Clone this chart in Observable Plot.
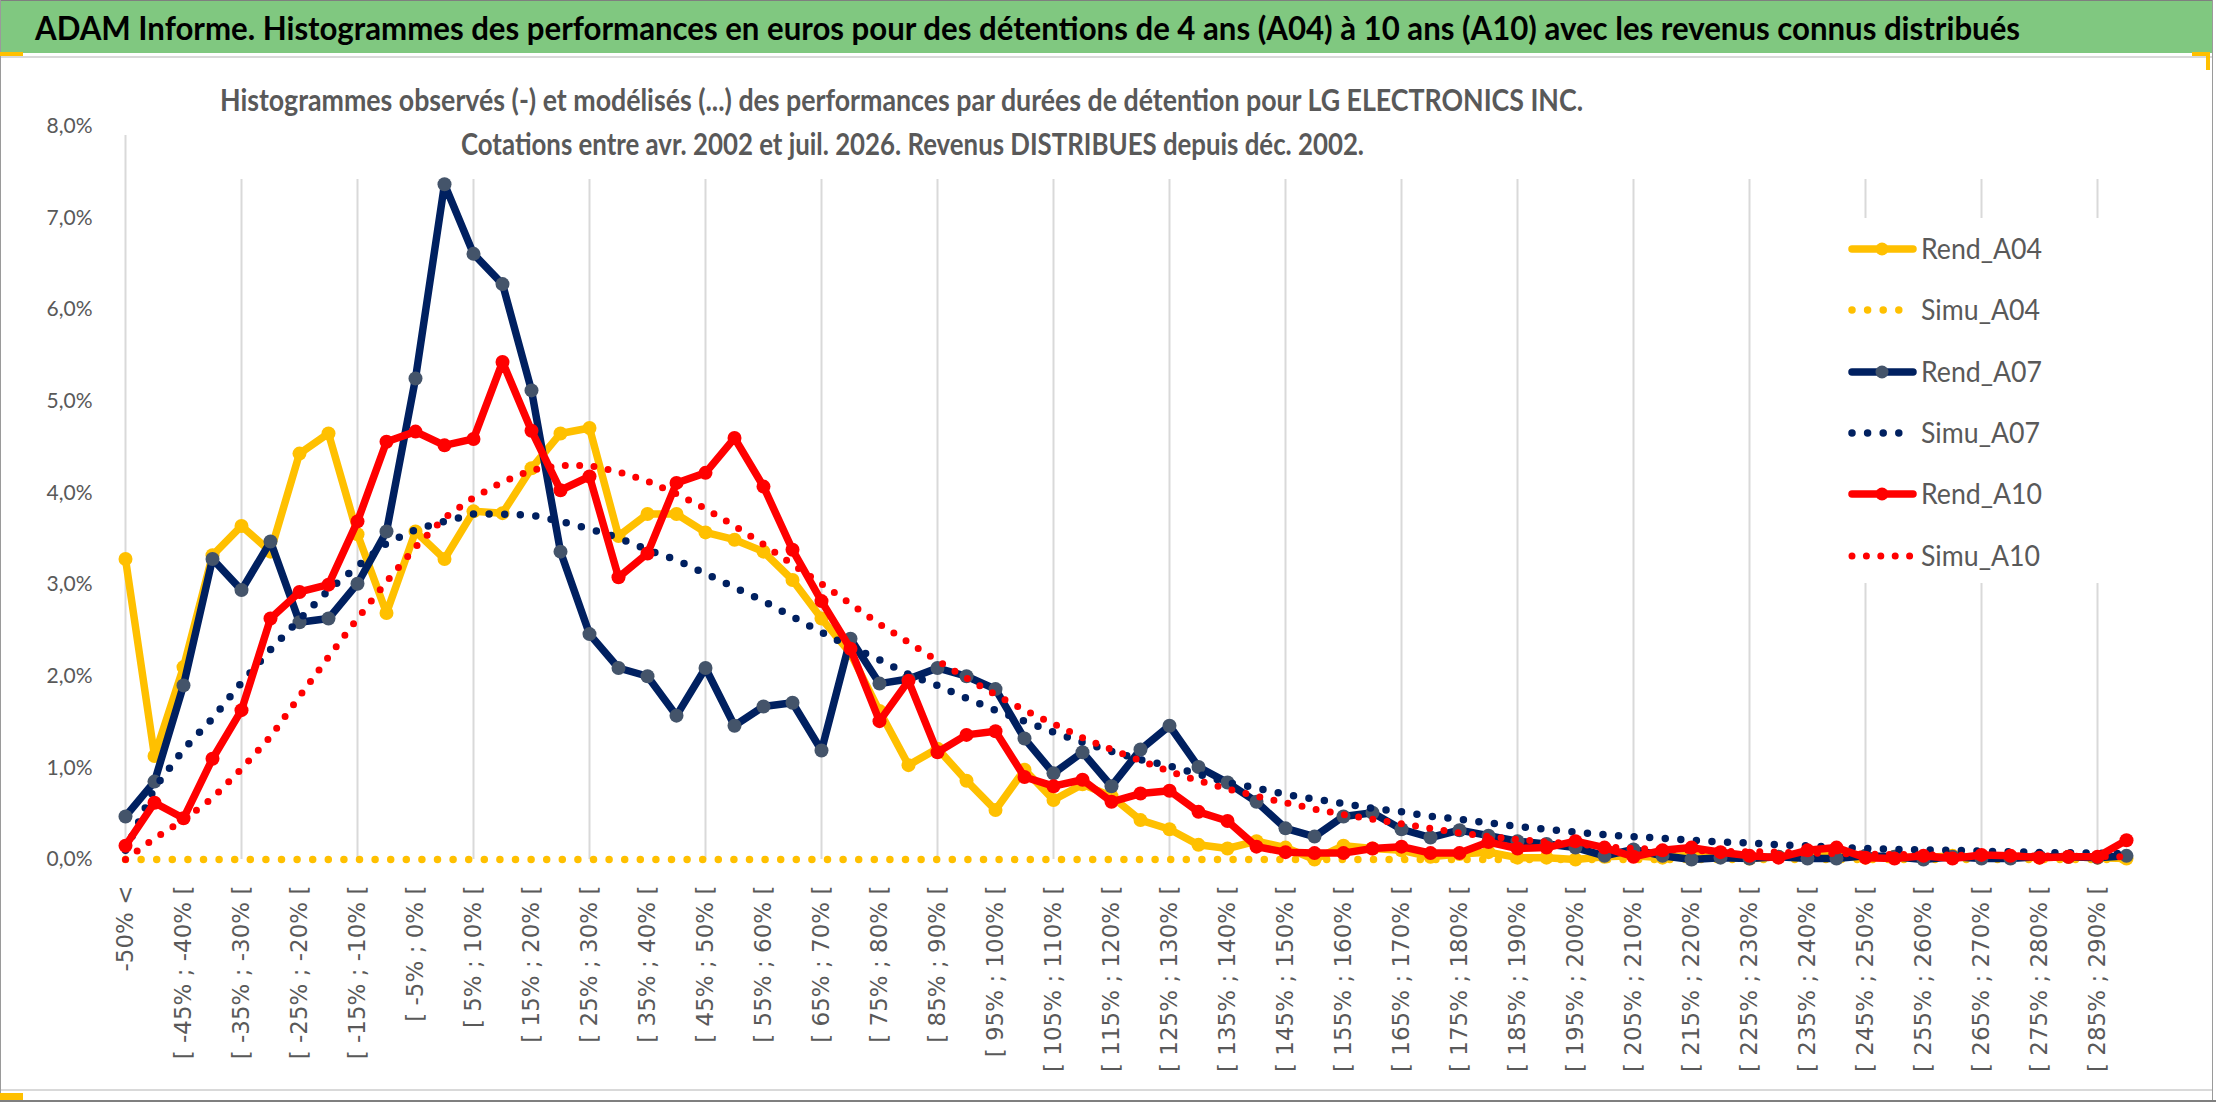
<!DOCTYPE html>
<html>
<head>
<meta charset="utf-8">
<script src="https://cdn.jsdelivr.net/npm/d3@7"></script>
<script src="https://cdn.jsdelivr.net/npm/@observablehq/plot@0.6"></script>
<style>
html,body{margin:0;padding:0;background:#fff;}
#wrap{position:relative;width:2216px;height:1102px;overflow:hidden;background:#fff;}
#header{position:absolute;left:0;top:0;width:2213px;height:53px;background:#80c880;border-top:1px solid #7f7f7f;box-sizing:border-box;}
#header svg{display:block;overflow:visible;}
#chart{position:absolute;left:0;top:57px;}
.deco{position:absolute;}
</style>
</head>
<body>
<div id="wrap">
  <div id="chart"></div>
  <div id="header">
    <svg width="2213" height="52">
      <text id="title" x="35" y="39" text-anchor="start" font-family="Lato, 'Open Sans', sans-serif" font-weight="bold" font-size="32" fill="#000" textLength="1985" lengthAdjust="spacingAndGlyphs">ADAM Informe. Histogrammes des performances en euros pour des détentions de 4 ans (A04) à 10 ans (A10) avec les revenus connus distribués</text>
    </svg>
  </div>
  <div class="deco" style="left:0;top:56px;width:2213px;height:2px;background:#d9d9d9;"></div>
  <div class="deco" style="left:0;top:1089px;width:2213px;height:2px;background:#d9d9d9;"></div>
  <div class="deco" style="left:0;top:0;width:1px;height:1102px;background:#9a9a9a;"></div>
  <div class="deco" style="left:2212px;top:0;width:1px;height:1102px;background:#9a9a9a;"></div>
  <div class="deco" style="left:0;top:1100px;width:2216px;height:2px;background:#7f7f7f;"></div>
  <div class="deco" style="left:0;top:52px;width:23px;height:4px;background:#ffc000;"></div>
  <div class="deco" style="left:2192px;top:52px;width:18px;height:4px;background:#ffc000;"></div>
  <div class="deco" style="left:2206px;top:52px;width:4px;height:18px;background:#ffc000;"></div>
  <div class="deco" style="left:0;top:1093px;width:23px;height:7px;background:#ffc000;"></div>
</div>
<script>
// ---- categories (classes de performance) ----
const cats = [
  "-50% <",
  "[ -50% ; -45% [", "[ -45% ; -40% [", "[ -40% ; -35% [", "[ -35% ; -30% [", "[ -30% ; -25% [",
  "[ -25% ; -20% [", "[ -20% ; -15% [", "[ -15% ; -10% [", "[ -10% ; -5% [", "[ -5% ; 0% [",
  "[ 0% ; 5% [", "[ 5% ; 10% [", "[ 10% ; 15% [", "[ 15% ; 20% [", "[ 20% ; 25% [",
  "[ 25% ; 30% [", "[ 30% ; 35% [", "[ 35% ; 40% [", "[ 40% ; 45% [", "[ 45% ; 50% [",
  "[ 50% ; 55% [", "[ 55% ; 60% [", "[ 60% ; 65% [", "[ 65% ; 70% [", "[ 70% ; 75% [",
  "[ 75% ; 80% [", "[ 80% ; 85% [", "[ 85% ; 90% [", "[ 90% ; 95% [", "[ 95% ; 100% [",
  "[ 100% ; 105% [", "[ 105% ; 110% [", "[ 110% ; 115% [", "[ 115% ; 120% [", "[ 120% ; 125% [",
  "[ 125% ; 130% [", "[ 130% ; 135% [", "[ 135% ; 140% [", "[ 140% ; 145% [", "[ 145% ; 150% [",
  "[ 150% ; 155% [", "[ 155% ; 160% [", "[ 160% ; 165% [", "[ 165% ; 170% [", "[ 170% ; 175% [",
  "[ 175% ; 180% [", "[ 180% ; 185% [", "[ 185% ; 190% [", "[ 190% ; 195% [", "[ 195% ; 200% [",
  "[ 200% ; 205% [", "[ 205% ; 210% [", "[ 210% ; 215% [", "[ 215% ; 220% [", "[ 220% ; 225% [",
  "[ 225% ; 230% [", "[ 230% ; 235% [", "[ 235% ; 240% [", "[ 240% ; 245% [", "[ 245% ; 250% [",
  "[ 250% ; 255% [", "[ 255% ; 260% [", "[ 260% ; 265% [", "[ 265% ; 270% [", "[ 270% ; 275% [",
  "[ 275% ; 280% [", "[ 280% ; 285% [", "[ 285% ; 290% [", "[ 290% ; 295% ["
];

// ---- series values (in %) ----
const rendA04 = [3.28,1.13,2.10,3.32,3.64,3.36,4.43,4.65,3.55,2.69,
  3.58,3.28,3.80,3.78,4.27,4.65,4.71,3.53,3.77,3.77,
  3.57,3.49,3.36,3.05,2.63,2.25,1.62,1.03,1.21,0.86,
  0.54,0.98,0.65,0.82,0.69,0.43,0.33,0.16,0.12,0.20,
  0.13,0.00,0.15,0.12,0.10,0.03,0.06,0.08,0.02,0.02,
  0.00,0.03,0.04,0.02,0.05,0.03,0.01,0.03,0.05,0.04,
  0.02,0.03,0.02,0.04,0.02,0.03,0.02,0.03,0.02,0.01];
const simuA04 = [0,0,0,0,0,0,0,0,0,0, 0,0,0,0,0,0,0,0,0,0, 0,0,0,0,0,0,0,0,0,0,
  0,0,0,0,0,0,0,0,0,0, 0,0,0,0,0,0,0,0,0,0, 0,0,0,0,0,0,0,0,0,0, 0,0,0,0,0,0,0,0,0,0];
const rendA07 = [0.47,0.85,1.90,3.28,2.94,3.47,2.59,2.63,3.01,3.58,
  5.25,7.37,6.61,6.28,5.12,3.36,2.46,2.09,2.00,1.57,
  2.09,1.46,1.67,1.71,1.19,2.41,1.92,1.97,2.09,2.00,
  1.86,1.32,0.94,1.17,0.80,1.20,1.46,1.01,0.84,0.63,
  0.34,0.25,0.47,0.51,0.33,0.24,0.32,0.26,0.20,0.17,
  0.13,0.04,0.11,0.04,0.00,0.02,0.01,0.03,0.01,0.01,
  0.04,0.03,0.00,0.03,0.01,0.01,0.03,0.03,0.02,0.04];
const simuA07 = [0.10,0.78,1.20,1.54,1.93,2.29,2.62,2.94,3.20,3.45,
  3.60,3.69,3.77,3.77,3.76,3.69,3.61,3.51,3.38,3.27,
  3.12,2.97,2.82,2.65,2.48,2.32,2.18,2.02,1.90,1.76,
  1.63,1.51,1.39,1.28,1.18,1.09,1.02,0.93,0.84,0.78,
  0.71,0.66,0.61,0.56,0.52,0.47,0.44,0.40,0.36,0.33,
  0.30,0.27,0.25,0.23,0.21,0.19,0.18,0.16,0.15,0.13,
  0.12,0.11,0.105,0.10,0.09,0.085,0.076,0.073,0.07,0.065];
const rendA10 = [0.15,0.62,0.45,1.10,1.63,2.63,2.92,3.00,3.69,4.56,
  4.67,4.52,4.59,5.43,4.68,4.03,4.18,3.08,3.34,4.11,
  4.22,4.60,4.07,3.38,2.82,2.30,1.51,1.95,1.17,1.36,
  1.40,0.90,0.80,0.87,0.63,0.72,0.75,0.52,0.42,0.14,
  0.08,0.07,0.07,0.12,0.14,0.07,0.07,0.19,0.12,0.13,
  0.20,0.13,0.03,0.10,0.13,0.08,0.04,0.02,0.10,0.13,
  0.02,0.01,0.04,0.01,0.05,0.04,0.02,0.03,0.03,0.21];
const simuA10 = [0.00,0.23,0.43,0.67,0.99,1.34,1.78,2.21,2.63,3.03,
  3.41,3.73,3.95,4.12,4.25,4.30,4.30,4.23,4.13,3.99,
  3.83,3.64,3.44,3.22,3.01,2.79,2.57,2.37,2.17,1.98,
  1.80,1.63,1.48,1.33,1.20,1.08,0.96,0.86,0.77,0.69,
  0.62,0.55,0.49,0.44,0.39,0.34,0.29,0.25,0.22,0.19,
  0.17,0.14,0.12,0.11,0.10,0.09,0.085,0.08,0.07,0.065,
  0.06,0.055,0.05,0.048,0.045,0.04,0.038,0.035,0.033,0.03];

const yTicks = [0, 0.01, 0.02, 0.03, 0.04, 0.05, 0.06, 0.07, 0.08];
const seriesNames = ["Rend_A04", "Simu_A04", "Rend_A07", "Simu_A07", "Rend_A10", "Simu_A10"];

// ---- styles ----
const YELLOW = "#FFC000", NAVY = "#002060", RED = "#FF0000", SLATE = "#44546A";
const styles = {
  Rend_A04: {color: YELLOW, marker: YELLOW, dotted: false, w: 7.5},
  Simu_A04: {color: YELLOW, dotted: true, w: 7.5, gap: 15.6},
  Rend_A07: {color: NAVY, marker: SLATE, dotted: false, w: 7.5},
  Simu_A07: {color: NAVY, dotted: true, w: 7.5, gap: 15.6},
  Rend_A10: {color: RED, marker: RED, dotted: false, w: 7.5},
  Simu_A10: {color: RED, dotted: true, w: 7, gap: 14.4}
};
const values = {Rend_A04: rendA04, Simu_A04: simuA04, Rend_A07: rendA07, Simu_A07: simuA07, Rend_A10: rendA10, Simu_A10: simuA10};
const table = s => cats.map((c, i) => ({cat: c, v: values[s][i] / 100}));

const xTicks = cats.filter((_, i) => i % 2 === 0);
const gridCats = cats.filter((_, i) => i % 4 === 0);
const fmt = d => (d * 100).toFixed(1).replace(".", ",") + "%";

const marks = [
  Plot.ruleY(yTicks, {y: d => d, x1: cats[0], x2: cats[cats.length - 1], stroke: "#d9d9d9", strokeWidth: 2}),
  Plot.ruleX(gridCats, {x: d => d, y1: 0, y2: d => d === cats[0] ? 0.08 : 0.0752, insetBottom: -9, stroke: "#d9d9d9", strokeWidth: 2}),
  Plot.axisY({ticks: yTicks, tickFormat: fmt, tickSize: 0, tickPadding: 20, fontSize: 21, fontFamily: "Lato, 'Open Sans', sans-serif", label: null}),
  Plot.axisX({ticks: xTicks, tickRotate: -90, tickSize: 0, tickPadding: 26, fontSize: 23, fontFamily: "'DejaVu Sans', sans-serif", label: null})
];
for (const s of seriesNames) {
  const st = styles[s];
  if (st.dotted) {
    marks.push(Plot.line(table(s), {x: "cat", y: "v", stroke: st.color, strokeWidth: st.w, strokeDasharray: `0 ${st.gap}`, strokeLinecap: "round", strokeLinejoin: "round"}));
  } else {
    marks.push(Plot.line(table(s), {x: "cat", y: "v", stroke: st.color, strokeWidth: st.w, strokeLinecap: "round", strokeLinejoin: "round"}));
    marks.push(Plot.dot(table(s), {x: "cat", y: "v", r: 7, fill: st.marker, stroke: "none"}));
  }
}

const chart = Plot.plot({
  width: 2216,
  height: 1045,
  marginLeft: 112,
  marginRight: 78,
  marginTop: 69,
  marginBottom: 243,
  x: {type: "point", domain: cats, padding: 0, label: null},
  y: {domain: [0, 0.08], label: null},
  style: {background: "transparent", color: "#595959", overflow: "visible"},
  marks
});
document.getElementById("chart").appendChild(chart);

// ---- subtitle box and legend inside the plot area ----
const svg = d3.select(chart);
const g = svg.append("g").attr("text-anchor", "start");
g.append("rect").attr("x", 212).attr("y", 16).attr("width", 1375).attr("height", 96).attr("fill", "#fff");
const subFont = "Lato, 'Open Sans', sans-serif";
g.append("text").attr("x", 220).attr("y", 54).attr("text-anchor", "start")
  .attr("font-family", subFont).attr("font-weight", "bold").attr("font-size", 30).attr("fill", "#595959")
  .attr("textLength", 1363).attr("lengthAdjust", "spacingAndGlyphs")
  .text("Histogrammes observés (-) et modélisés (...) des performances par durées de détention pour LG ELECTRONICS INC.");
g.append("text").attr("x", 461).attr("y", 98).attr("text-anchor", "start")
  .attr("font-family", subFont).attr("font-weight", "bold").attr("font-size", 30).attr("fill", "#595959")
  .attr("textLength", 903).attr("lengthAdjust", "spacingAndGlyphs")
  .text("Cotations entre avr. 2002 et juil. 2026. Revenus DISTRIBUES depuis déc. 2002.");

// legend
g.append("rect").attr("x", 1780).attr("y", 161).attr("width", 332).attr("height", 365).attr("fill", "#fff");
const rowY = [192, 253, 315, 376, 437, 499];
seriesNames.forEach((s, i) => {
  const st = styles[s];
  const y = rowY[i];
  if (st.dotted) {
    g.append("line").attr("x1", 1852).attr("x2", st.gap < 15 ? 1910 : 1900).attr("y1", y).attr("y2", y)
      .attr("stroke", st.color).attr("stroke-width", st.w).attr("stroke-dasharray", `0 ${st.gap}`).attr("stroke-linecap", "round");
  } else {
    g.append("line").attr("x1", 1852).attr("x2", 1913).attr("y1", y).attr("y2", y)
      .attr("stroke", st.color).attr("stroke-width", st.w).attr("stroke-linecap", "round");
    g.append("circle").attr("cx", 1882).attr("cy", y).attr("r", 6.5).attr("fill", st.marker);
  }
  g.append("text").attr("x", 1921).attr("y", y).attr("dy", "0.36em").attr("text-anchor", "start")
    .attr("font-family", subFont).attr("font-size", 29).attr("fill", "#595959")
    .attr("textLength", s.startsWith("Rend") ? 121 : 119).attr("lengthAdjust", "spacingAndGlyphs")
    .text(s);
});
</script>
</body>
</html>
